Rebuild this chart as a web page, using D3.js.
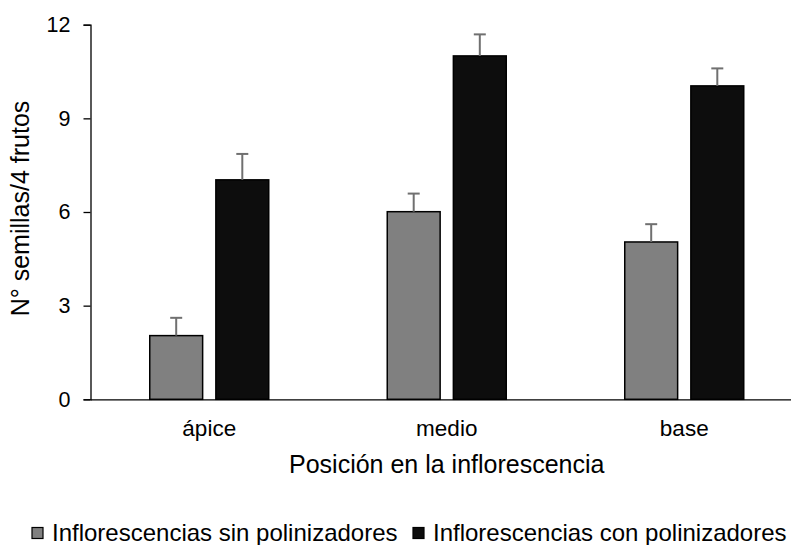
<!DOCTYPE html>
<html>
<head>
<meta charset="utf-8">
<script src="https://cdn.jsdelivr.net/npm/d3@7"></script>
<style>
  body { margin: 0; background: #fff; }
  text { font-family: "Liberation Sans", Arial, sans-serif; fill: #000; }
</style>
</head>
<body>
<div id="container"></div>
<script>
// data
let categories = ["ápice", "medio", "base"];
let seriesNames = ["Inflorescencias sin polinizadores", "Inflorescencias con polinizadores"];
let sinValues = [2.04, 6.01, 5.04];
let sinErr = [0.57, 0.58, 0.57];
let conValues = [7.03, 11.0, 10.04];
let conErr = [0.83, 0.69, 0.56];
let yTicks = [0, 3, 6, 9, 12];

let width = 791, height = 545;
let margin = {top: 24.7, left: 90.5, bottom: 145.7};
let plotBottom = height - margin.bottom;

let svg = d3.select("#container").append("svg")
    .attr("width", width)
    .attr("height", height);

let yScale = d3.scaleLinear()
    .domain([0, 12])
    .range([plotBottom, margin.top]);

// category bands (the last band runs past the picture's edge)
let x0 = d3.scaleBand()
    .domain(categories)
    .range([margin.left, margin.left + 3 * 237.5]);

let x1 = d3.scaleBand()
    .domain([0, 1])
    .range([0, 119])
    .paddingInner(0.2);

let rows = categories.map((c, i) => ({
  cat: c,
  vals: [{s: 0, v: sinValues[i], e: sinErr[i]}, {s: 1, v: conValues[i], e: conErr[i]}]
}));

let fills = ["#808080", "#0d0d0d"];

// y axis
let yAxis = d3.axisLeft(yScale).tickValues(yTicks).tickSize(7).tickPadding(13);
let yAxisGroup = svg.append("g")
    .attr("transform", "translate(" + margin.left + ",0)")
    .call(yAxis);
yAxisGroup.select(".domain").attr("stroke", "#000").attr("stroke-width", 1.3);
yAxisGroup.selectAll(".tick line").attr("stroke", "#000").attr("stroke-width", 1.3);
yAxisGroup.selectAll(".tick text")
    .style("font-family", "'Liberation Sans', Arial, sans-serif")
    .style("font-size", "21.5px")
    .attr("fill", "#000");

// bars
let groups = svg.selectAll(".cat")
    .data(rows)
    .enter().append("g")
      .attr("class", "cat")
      .attr("transform", d => "translate(" + (x0(d.cat) + x0.bandwidth() / 2 - 59.5) + ",0)");

groups.selectAll("rect")
    .data(d => d.vals)
    .enter().append("rect")
      .attr("x", d => x1(d.s))
      .attr("y", d => yScale(d.v))
      .attr("width", x1.bandwidth())
      .attr("height", d => plotBottom - yScale(d.v))
      .attr("fill", d => fills[d.s])
      .attr("stroke", "#000")
      .attr("stroke-width", 1.5);

// error bars (upper only)
let err = groups.selectAll(".err")
    .data(d => d.vals)
    .enter().append("g")
      .attr("class", "err")
      .attr("stroke", "#707070")
      .attr("stroke-width", 2);
err.append("line")
    .attr("x1", d => x1(d.s) + x1.bandwidth() / 2)
    .attr("x2", d => x1(d.s) + x1.bandwidth() / 2)
    .attr("y1", d => yScale(d.v))
    .attr("y2", d => yScale(d.v + d.e));
err.append("line")
    .attr("x1", d => x1(d.s) + x1.bandwidth() / 2 - 6)
    .attr("x2", d => x1(d.s) + x1.bandwidth() / 2 + 6)
    .attr("y1", d => yScale(d.v + d.e))
    .attr("y2", d => yScale(d.v + d.e));

// x axis
let xAxis = d3.axisBottom(x0).tickSize(0).tickPadding(21);
let xAxisGroup = svg.append("g")
    .attr("transform", "translate(0," + plotBottom + ")")
    .call(xAxis);
xAxisGroup.select(".domain").attr("stroke", "#000").attr("stroke-width", 1.3);
xAxisGroup.selectAll(".tick text")
    .style("font-family", "'Liberation Sans', Arial, sans-serif")
    .style("font-size", "22.5px")
    .attr("fill", "#000");

// axis titles
svg.append("text")
    .attr("x", x0("medio") + x0.bandwidth() / 2)
    .attr("y", 473)
    .attr("text-anchor", "middle")
    .style("font-size", "25px")
    .text("Posición en la inflorescencia");

svg.append("text")
    .attr("transform", "translate(29,208.5) rotate(-90)")
    .attr("text-anchor", "middle")
    .style("font-size", "25px")
    .text("N° semillas/4 frutos");

// legend
let legendX = [32, 413];
let legend = svg.selectAll(".leg")
    .data(seriesNames)
    .enter().append("g")
      .attr("class", "leg")
      .attr("transform", (d, i) => "translate(" + legendX[i] + ",527.5)");
legend.append("rect")
    .attr("width", 11)
    .attr("height", 11)
    .attr("fill", (d, i) => fills[i])
    .attr("stroke", "#000")
    .attr("stroke-width", 1.2);
legend.append("text")
    .attr("x", 20)
    .attr("y", 13.5)
    .style("font-size", "24px")
    .text(d => d);
</script>
</body>
</html>
